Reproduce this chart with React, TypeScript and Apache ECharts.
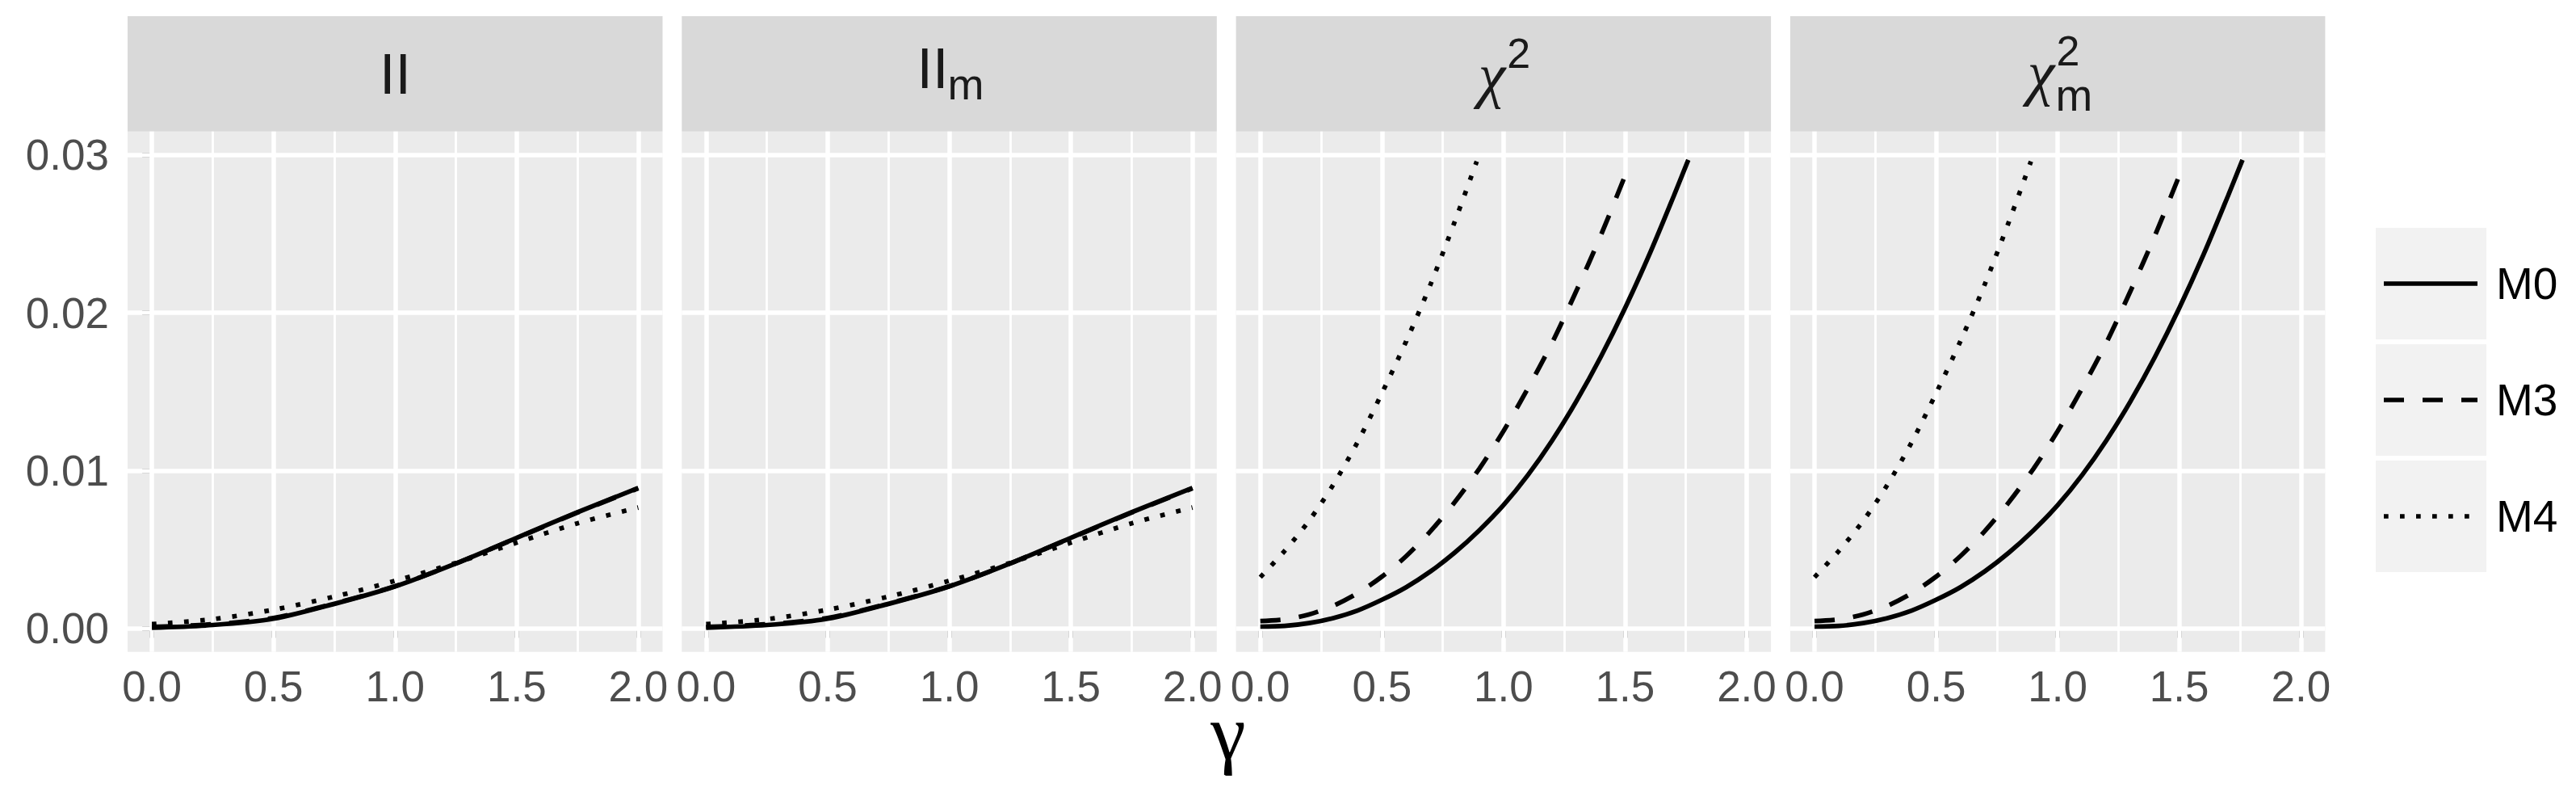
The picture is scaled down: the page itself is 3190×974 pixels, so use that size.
import React, { useEffect, useRef } from "react";
import * as echarts from "echarts";

// ---------- data ----------
const panelNames = ["II", "IIm", "chi2", "chi2m"];
const seriesNames = ["M0", "M3", "M4"];

const xTicks = [0, 0.5, 1.0, 1.5, 2.0];
const xMinor = [0.25, 0.75, 1.25, 1.75];
const yTicks = [0, 0.01, 0.02, 0.03];
const yMinor = [0.005, 0.015, 0.025];

// II / II_m panels
const xII = [0, 0.25, 0.5, 0.75, 1.0, 1.25, 1.5, 1.75, 2.0];
const m0II = [0.00003, 0.0002, 0.0006, 0.00154, 0.00265, 0.0041, 0.00573, 0.00735, 0.00889];
const m3II = [0.00008, 0.00025, 0.00065, 0.00157, 0.00266, 0.0041, 0.00572, 0.00733, 0.00887];
const m4II = [0.00026, 0.00057, 0.00117, 0.002, 0.003, 0.00414, 0.00542, 0.00665, 0.00765];

// chi^2 / chi^2_m panels
const xChiM0 = [0, 0.1, 0.2, 0.3, 0.4, 0.5, 0.6, 0.7, 0.8, 0.9, 1.0, 1.1, 1.2, 1.3, 1.4, 1.5, 1.6, 1.7, 1.76];
const m0Chi = [0.0001, 0.00014, 0.00032, 0.00064, 0.00112, 0.0018, 0.0026, 0.0036, 0.0048, 0.0062, 0.0078, 0.0097, 0.0119, 0.0144, 0.0172, 0.0203, 0.0237, 0.0274, 0.0297];
const xChiM3 = [0, 0.1, 0.2, 0.3, 0.4, 0.5, 0.6, 0.7, 0.8, 0.9, 1.0, 1.1, 1.2, 1.3, 1.4, 1.5, 1.52];
const m3Chi = [0.00045, 0.00056, 0.00087, 0.00142, 0.00222, 0.00327, 0.00457, 0.00615, 0.008, 0.0101, 0.0125, 0.0152, 0.0181, 0.0214, 0.0249, 0.0287, 0.0295];
const xChiM4 = [0, 0.1, 0.2, 0.3, 0.4, 0.5, 0.6, 0.7, 0.8, 0.89];
const m4Chi = [0.00323, 0.0049, 0.0068, 0.0091, 0.0118, 0.0149, 0.0182, 0.0218, 0.0258, 0.0296];

// ---------- layout ----------
const W = 3190;
const H = 974;
const PANEL_LEFT0 = 158;
const PANEL_STEP = 686.3;
const PANEL_W = 662.5;
const PANEL_TOP = 162.7;
const PANEL_H = 644;
const STRIP_TOP = 20;

const TEXT_AXIS = "#4D4D4D";
const TICK = "#333333";
const FONT = "'Liberation Sans', Arial, Helvetica, sans-serif";
const SERIF = "'Liberation Serif', 'DejaVu Serif', serif";
const LW = 5.7;
const dashFor: Record<string, any> = {
  M0: "solid",
  M3: [25, 23],
  M4: [5.7, 14.3],
};

const zip = (xs: number[], ys: number[]) => xs.map((x, i) => [x, ys[i]]);

export default function App() {
  const ref = useRef<HTMLDivElement>(null);

  useEffect(() => {
    document.body.style.margin = "0";
    if (!ref.current) return;
    const chart = echarts.init(ref.current, null, { renderer: "svg", width: W, height: H });

    const grids: any[] = [];
    const xAxes: any[] = [];
    const yAxes: any[] = [];
    const series: any[] = [];
    const graphics: any[] = [];

    const panelData = [
      { M0: zip(xII, m0II), M3: zip(xII, m3II), M4: zip(xII, m4II) },
      { M0: zip(xII, m0II), M3: zip(xII, m3II), M4: zip(xII, m4II) },
      { M0: zip(xChiM0, m0Chi), M3: zip(xChiM3, m3Chi), M4: zip(xChiM4, m4Chi) },
      { M0: zip(xChiM0, m0Chi), M3: zip(xChiM3, m3Chi), M4: zip(xChiM4, m4Chi) },
    ];

    panelNames.forEach((_, i) => {
      const left = PANEL_LEFT0 + i * PANEL_STEP;
      grids.push({
        left,
        top: PANEL_TOP,
        width: PANEL_W,
        height: PANEL_H,
        show: true,
        backgroundColor: "#EBEBEB",
        borderWidth: 0,
        containLabel: false,
      });
      xAxes.push({
        gridIndex: i,
        type: "value",
        min: -0.1,
        max: 2.1,
        axisLine: { show: false },
        splitLine: { show: false },
        axisTick: {
          show: true,
          length: 12,
          customValues: xTicks,
          lineStyle: { color: TICK, width: 5.5 },
        },
        axisLabel: {
          show: true,
          customValues: xTicks,
          formatter: (v: number) => v.toFixed(1),
          margin: 16,
          color: TEXT_AXIS,
          fontSize: 53,
          fontFamily: FONT,
        },
      });
      yAxes.push({
        gridIndex: i,
        type: "value",
        min: -0.0015,
        max: 0.0315,
        axisLine: { show: false },
        splitLine: { show: false },
        axisTick: {
          show: i === 0,
          length: 12,
          customValues: yTicks,
          lineStyle: { color: TICK, width: 5.5 },
        },
        axisLabel: {
          show: i === 0,
          customValues: yTicks,
          formatter: (v: number) => v.toFixed(2),
          margin: 23,
          color: TEXT_AXIS,
          fontSize: 53,
          fontFamily: FONT,
        },
      });

      // gridlines through the axes' scales
      const gl = (w: number) => ({ width: w, color: "#FFFFFF", type: "solid" });
      series.push({
        type: "line",
        xAxisIndex: i,
        yAxisIndex: i,
        data: [],
        z: 1,
        silent: true,
        markLine: {
          silent: true,
          z: 1,
          symbol: ["none", "none"],
          label: { show: false },
          emphasis: { disabled: true },
          animation: false,
          data: [
            ...xMinor.map((v) => ({ xAxis: v, lineStyle: gl(2.8) })),
            ...yMinor.map((v) => ({ yAxis: v, lineStyle: gl(2.8) })),
            ...xTicks.map((v) => ({ xAxis: v, lineStyle: gl(5.5) })),
            ...yTicks.map((v) => ({ yAxis: v, lineStyle: gl(5.5) })),
          ],
        },
      });

      seriesNames.forEach((name) => {
        series.push({
          type: "line",
          name,
          xAxisIndex: i,
          yAxisIndex: i,
          data: (panelData[i] as any)[name],
          smooth: 0.3,
          symbol: "none",
          z: 3,
          silent: true,
          lineStyle: { color: "#000000", width: LW, type: dashFor[name], cap: "butt" },
        });
      });

      // strip
      graphics.push({
        type: "rect",
        shape: { x: left, y: STRIP_TOP, width: PANEL_W, height: PANEL_TOP - STRIP_TOP },
        style: { fill: "#D9D9D9" },
        z: 0,
      });
    });

    const stripText = (text: string, x: number, y: number, size: number, family = FONT, style = "normal") => ({
      type: "text",
      z: 10,
      style: {
        text,
        x,
        y,
        font: `${style} ${size}px ${family}`,
        fill: "#1A1A1A",
        align: "center",
        verticalAlign: "middle",
      },
    });

    graphics.push(stripText("II", 489.5, 91.7, 70));
    graphics.push(stripText("II", 1154.9, 85, 70));
    graphics.push(stripText("m", 1195.9, 104, 54));
    graphics.push(stripText("χ", 1847.5, 93, 76, SERIF, "italic"));
    graphics.push(stripText("2", 1880.8, 65.7, 52));
    graphics.push(stripText("χ", 2527.5, 90, 76, SERIF, "italic"));
    graphics.push(stripText("2", 2561, 62.8, 52));
    graphics.push(stripText("m", 2568.5, 117.7, 55));

    // x-axis title
    graphics.push({
      type: "text",
      z: 10,
      style: {
        text: "γ",
        x: 1521,
        y: 906,
        font: `normal 98px ${SERIF}`,
        fill: "#000000",
        align: "center",
        verticalAlign: "middle",
      },
    });

    // legend
    const keyTops = [282, 426, 570];
    seriesNames.forEach((name, k) => {
      const ky = keyTops[k];
      const cy = ky + 69;
      graphics.push({
        type: "rect",
        z: 10,
        shape: { x: 2942, y: ky, width: 137, height: 138 },
        style: { fill: "#F2F2F2" },
      });
      graphics.push({
        type: "line",
        z: 11,
        shape: { x1: 2952, y1: cy, x2: 3068, y2: cy },
        style: {
          stroke: "#000000",
          lineWidth: LW,
          lineCap: "butt",
          lineDash: dashFor[name] === "solid" ? null : dashFor[name],
        },
      });
      graphics.push({
        type: "text",
        z: 11,
        style: {
          text: name,
          x: 3091,
          y: cy,
          font: `normal 55px ${FONT}`,
          fill: "#000000",
          align: "left",
          verticalAlign: "middle",
        },
      });
    });

    chart.setOption({
      animation: false,
      backgroundColor: "#FFFFFF",
      grid: grids,
      xAxis: xAxes,
      yAxis: yAxes,
      series,
      graphic: { elements: graphics },
    });

    return () => chart.dispose();
  }, []);

  return <div ref={ref} style={{ width: W, height: H }} />;
}
